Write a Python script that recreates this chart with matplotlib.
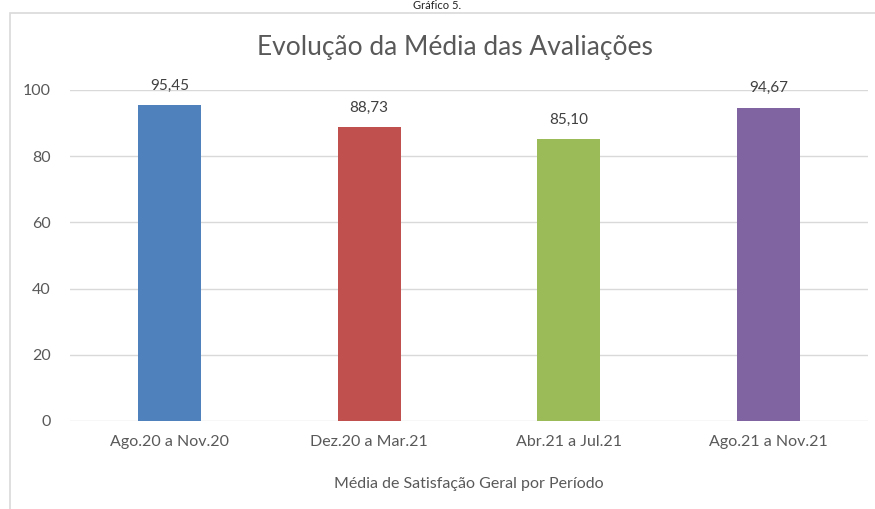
import matplotlib.pyplot as plt
from matplotlib.patches import Rectangle

# dados do grafico
periodos = ["Ago.20 a Nov.20", "Dez.20 a Mar.21", "Abr.21 a Jul.21", "Ago.21 a Nov.21"]
medias = [95.45, 88.73, 85.10, 94.67]
rotulos = ["95,45", "88,73", "85,10", "94,67"]
cores = ["#4F81BD", "#C0504D", "#9BBB59", "#8064A2"]

plt.rcParams['font.family'] = ['Lato', 'DejaVu Sans']
cinza = "#595959"

fig = plt.figure(figsize=(8.75, 5.09), dpi=100)
ax = fig.add_axes([0.08, 0.1729, 0.912, 0.6503])

x = range(len(periodos))
bars = ax.bar(x, medias, width=0.316, color=cores, zorder=3)
for b, t in zip(bars, rotulos):
    ax.annotate(t, (b.get_x() + b.get_width() / 2, b.get_height()),
                xytext=(0, 9), textcoords='offset points',
                ha='center', va='bottom', fontsize=11, color="#404040")

ax.set_xlim(-0.5, 3.5)
ax.set_ylim(0, 100)
ax.set_yticks([0, 20, 40, 60, 80, 100])
ax.set_xticks(list(x))
ax.set_xticklabels(periodos)
ax.tick_params(axis='both', length=0, labelsize=11.5, labelcolor=cinza)
ax.tick_params(axis='y', pad=14)
ax.tick_params(axis='x', pad=10)
ax.grid(axis='y', color="#d9d9d9", lw=1, zorder=0)
for s in ax.spines.values():
    s.set_visible(False)

ax.set_xlabel("Média de Satisfação Geral por Período", fontsize=11.5,
              color=cinza, labelpad=20)
fig.text(0.52, 1 - 48 / 509, "Evolução da Média das Avaliações",
         ha='center', va='center', fontsize=19, color=cinza)
fig.text(0.5, 1.0, "Gráfico 5.", ha='center', va='top',
         fontsize=8, color="#222222")

# moldura
fig.add_artist(Rectangle((10 / 875, -0.1), 1.2, 1.1 - 13 / 509,
                         transform=fig.transFigure, fill=False,
                         edgecolor="#d9d9d9", lw=1.2))

fig.savefig("out.png", dpi=100)
